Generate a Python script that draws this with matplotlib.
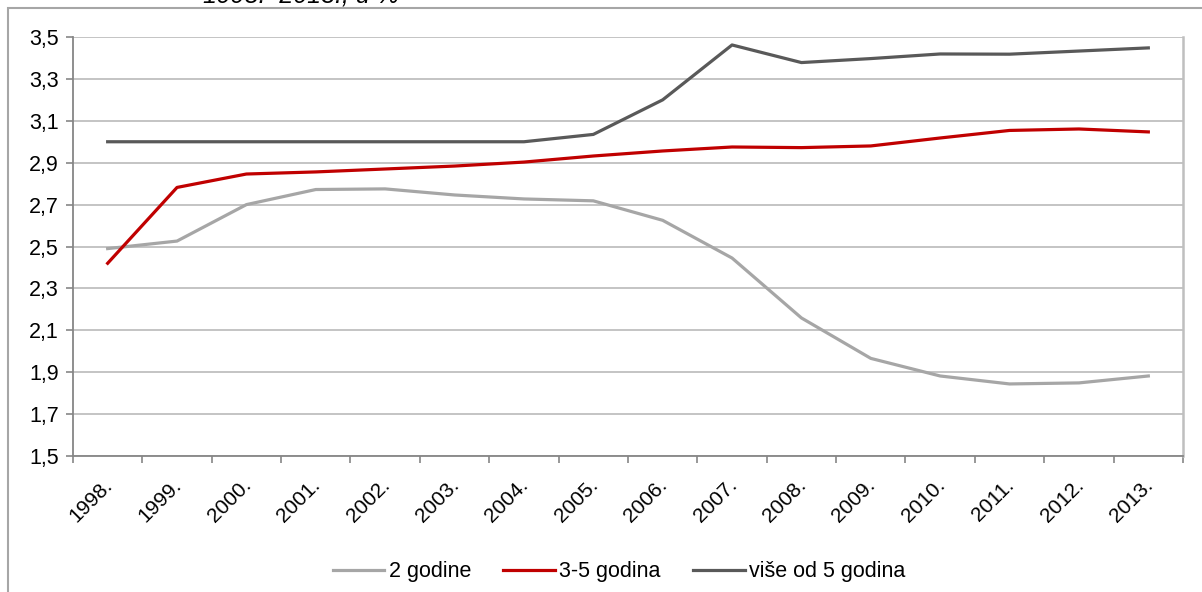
import matplotlib.pyplot as plt
import matplotlib.transforms as mtransforms
from matplotlib.patches import Rectangle
from matplotlib.ticker import FixedLocator, FuncFormatter

plt.rcParams['font.family'] = ['Liberation Sans', 'DejaVu Sans']

godine = ["1998.", "1999.", "2000.", "2001.", "2002.", "2003.", "2004.", "2005.",
          "2006.", "2007.", "2008.", "2009.", "2010.", "2011.", "2012.", "2013."]

dvije = [2.49, 2.526, 2.70, 2.772, 2.775, 2.746, 2.727, 2.718,
         2.625, 2.445, 2.159, 1.966, 1.882, 1.844, 1.849, 1.882]
tri_pet = [2.42, 2.782, 2.846, 2.856, 2.87, 2.884, 2.903, 2.932,
           2.956, 2.975, 2.972, 2.98, 3.018, 3.054, 3.061, 3.047]
vise_pet = [3.0, 3.0, 3.0, 3.0, 3.0, 3.0, 3.0, 3.035,
            3.2, 3.462, 3.378, 3.397, 3.419, 3.418, 3.433, 3.448]

fig = plt.figure(figsize=(12.02, 5.92), dpi=100)
ax = fig.add_axes([0.0607, 0.2297, 0.9235, 0.7078])

x = range(len(godine))
ax.plot(x, dvije, color="#A6A6A6", lw=2.3, label="2 godine")
ax.plot(x, tri_pet, color="#C00000", lw=2.3, label="3-5 godina")
ax.plot(x, vise_pet, color="#595959", lw=2.3, label="više od 5 godina")

ax.set_xlim(-0.5, len(godine) - 0.5)
ax.set_ylim(1.5, 3.5)
ax.set_yticks([1.5 + 0.2 * i for i in range(11)])
ax.yaxis.set_major_formatter(FuncFormatter(lambda v, p: f"{v:.1f}".replace(".", ",")))
ax.grid(axis="y", color="#BFBFBF", lw=1.3)
ax.set_axisbelow(True)

ax.set_xticks(list(x))
ax.set_xticklabels(godine, rotation=45, ha="right", va="top", rotation_mode="anchor")
ax.xaxis.set_minor_locator(FixedLocator([i - 0.5 for i in range(len(godine) + 1)]))
ax.tick_params(axis="x", which="major", length=0, pad=14, labelsize=15)
ax.tick_params(axis="x", which="minor", length=5, color="#868686", width=1.2)
ax.tick_params(axis="y", length=5, color="#868686", width=1.2, labelsize=15.5, pad=5)
shift = mtransforms.ScaledTranslation(-5 / 100, 0, fig.dpi_scale_trans)
for lab in ax.get_xticklabels():
    lab.set_transform(lab.get_transform() + shift)

for s in ["left", "bottom"]:
    ax.spines[s].set_color("#868686")
    ax.spines[s].set_linewidth(1.3)
ax.spines["top"].set_visible(False)
ax.spines["right"].set_color("#BFBFBF")
ax.spines["right"].set_linewidth(1.8)

ax.legend(loc="center", bbox_to_anchor=(0.515, 0.034), bbox_transform=fig.transFigure,
          ncol=3, frameon=False, fontsize=15.5, handlelength=2.4, handletextpad=0.2,
          columnspacing=1.5)

fig.add_artist(Rectangle((8 / 1202, -0.1), 1.2, 1.1 - 8 / 592, transform=fig.transFigure,
                         fill=False, edgecolor="#A6A6A6", lw=1.5))
fig.text(0.169, 1 - 3 / 592, "1998.–2013., u %", fontsize=18, style="italic",
         ha="left", va="baseline")

fig.savefig("out.png", dpi=100)
